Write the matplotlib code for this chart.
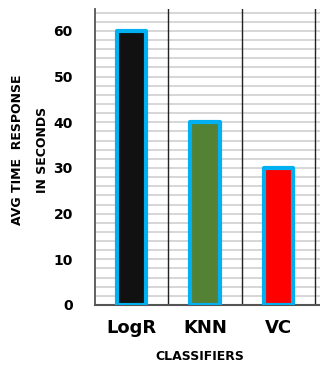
import matplotlib
matplotlib.use("Agg")
import matplotlib.pyplot as plt
import numpy as np

# 分类器及平均响应时间
classifiers = ["LogR", "KNN", "VC"]
avg_time = [60, 40, 30]
bar_colors = ["#111111", "#548235", "#FF0000"]

# 画布
fig = plt.figure(figsize=(3.2, 3.68), dpi=100)
ax = fig.add_axes([95 / 320, 1 - 305 / 368, 225 / 320, 296 / 368])

x = np.arange(len(classifiers))
bars = ax.bar(x, avg_time, width=0.40, color=bar_colors, edgecolor="#00B0F0",
              linewidth=3.0, zorder=3)
for b in bars:
    b.set_joinstyle("round")

# 坐标范围
ax.set_xlim(-0.5, 2.5 + 5 / 73.3)
ax.set_ylim(0, 64.8)

# 横向网格线，每2个单位一条
for yv in np.arange(2, 65, 2):
    ax.axhline(yv, color="#d6d6d6", linewidth=1.4, zorder=1)
# 类别之间的竖线
for xv in [0.5, 1.5, 2.5]:
    ax.axvline(xv, color="#222222", linewidth=1.0, zorder=2)

ax.set_yticks([0, 10, 20, 30, 40, 50, 60])
ax.set_xticks(x)
ax.set_xticklabels(classifiers, fontsize=13, fontweight="bold")
ax.tick_params(axis="y", length=0, pad=16, labelsize=10)
ax.tick_params(axis="x", length=0, pad=10)
for lab in ax.get_yticklabels():
    lab.set_fontweight("bold")

for side in ["top", "right"]:
    ax.spines[side].set_visible(False)
ax.spines["left"].set_color("#555555")
ax.spines["left"].set_linewidth(1.3)
ax.spines["bottom"].set_color("#555555")
ax.spines["bottom"].set_linewidth(1.5)

# 坐标轴标题
fig.text(18 / 320, 1 - 150 / 368, "AVG TIME  RESPONSE", rotation=90,
         ha="center", va="center", fontsize=9, fontweight="bold")
fig.text(42 / 320, 1 - 150 / 368, "IN SECONDS", rotation=90,
         ha="center", va="center", fontsize=9, fontweight="bold")
fig.text(200 / 320, 1 - 357 / 368, "CLASSIFIERS", ha="center", va="center",
         fontsize=9, fontweight="bold")

fig.savefig("out.png", dpi=100)
